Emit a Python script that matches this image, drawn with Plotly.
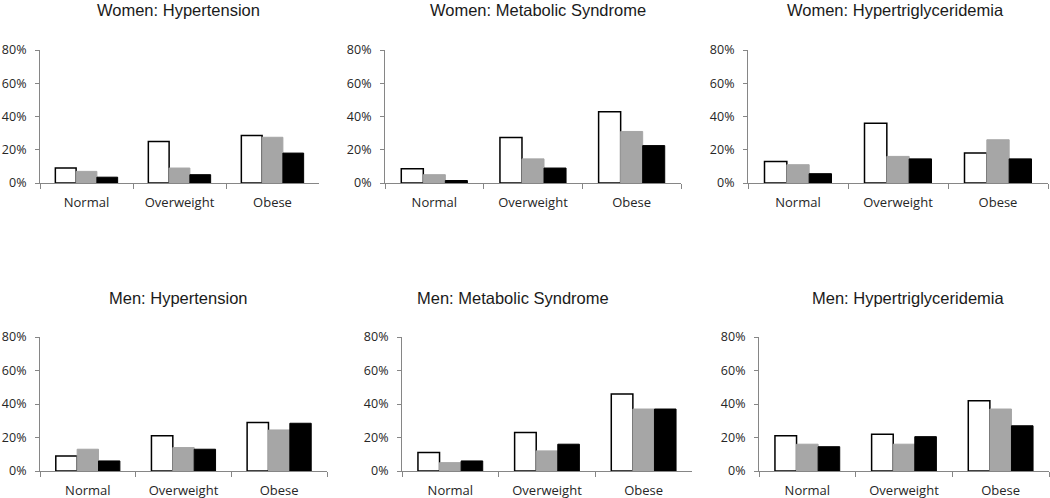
import plotly.graph_objects as go

categories = ["Normal", "Overweight", "Obese"]
panel_titles = [
    "Women: Hypertension", "Women: Metabolic Syndrome", "Women: Hypertriglyceridemia",
    "Men: Hypertension", "Men: Metabolic Syndrome", "Men: Hypertriglyceridemia",
]
y_ticks = [0, 20, 40, 60, 80]
y_tick_labels = ["0%", "20%", "40%", "60%", "80%"]

# values in percent, three series per panel (white, gray, black bars)
women_ht_white = [9, 25, 28.5]
women_ht_gray = [7, 9, 27.5]
women_ht_black = [3.5, 5, 18]

women_ms_white = [8.6, 27.3, 42.8]
women_ms_gray = [5, 14.5, 31]
women_ms_black = [1.5, 9, 22.5]

women_htg_white = [13, 36, 18]
women_htg_gray = [11, 16, 26]
women_htg_black = [5.6, 14.5, 14.5]

men_ht_white = [9, 21, 29]
men_ht_gray = [13, 14, 24.5]
men_ht_black = [6, 13, 28.5]

men_ms_white = [11, 23, 46]
men_ms_gray = [5, 12, 37]
men_ms_black = [6, 16, 37]

men_htg_white = [21, 22, 42]
men_htg_gray = [16, 16, 37]
men_htg_black = [14.5, 20.5, 27]

panels = [
    (women_ht_white, women_ht_gray, women_ht_black),
    (women_ms_white, women_ms_gray, women_ms_black),
    (women_htg_white, women_htg_gray, women_htg_black),
    (men_ht_white, men_ht_gray, men_ht_black),
    (men_ms_white, men_ms_gray, men_ms_black),
    (men_htg_white, men_htg_gray, men_htg_black),
]

W, H = 1050, 498
# pixel layout of each plot area: (x0, x1, ytop, ybottom)
boxes = [
    (40, 319, 50, 183), (385, 681, 50, 183), (748, 1048, 50, 183),
    (40, 327, 337, 471), (402, 692, 337, 471), (759, 1049, 337, 471),
]
title_pos = [(178, 10), (538, 10), (895, 10), (178, 298), (513, 298), (908, 298)]

fills = ["#FFFFFF", "#A6A6A6", "#000000"]
lines = ["#000000", "#A6A6A6", "#000000"]

fig = go.Figure()
axis_color = "#868686"
font_color = "#262626"

for i, (series, box) in enumerate(zip(panels, boxes)):
    n = i + 1
    xa = "x" if n == 1 else f"x{n}"
    ya = "y" if n == 1 else f"y{n}"
    for s, vals in enumerate(series):
        fig.add_trace(go.Bar(
            x=categories, y=vals, xaxis=xa, yaxis=ya,
            marker=dict(color=fills[s], line=dict(color=lines[s], width=1.5 if s == 0 else 1)),
            showlegend=False, offsetgroup=str(s),
        ))
    x0, x1, yt, yb = box
    xkey = "xaxis" if n == 1 else f"xaxis{n}"
    ykey = "yaxis" if n == 1 else f"yaxis{n}"
    fig.layout[xkey] = dict(
        domain=[x0 / W, x1 / W], anchor=ya, type="category", automargin=False,
        showline=True, linecolor=axis_color, linewidth=1,
        ticks="outside", tickson="boundaries", ticklen=5, tickcolor=axis_color,
        showgrid=False, zeroline=False,
        tickfont=dict(family="Open Sans", size=13, color=font_color),
        ticklabelstandoff=7,
        fixedrange=True,
    )
    fig.layout[ykey] = dict(
        domain=[1 - yb / H, 1 - yt / H], anchor=xa, automargin=False,
        range=[0, 80], tickmode="array", tickvals=y_ticks, ticktext=y_tick_labels,
        showline=True, linecolor=axis_color, linewidth=1,
        ticks="outside", ticklen=4, tickcolor=axis_color,
        showgrid=False, zeroline=False,
        tickfont=dict(family="Open Sans", size=12.5, color=font_color),
        ticklabelstandoff=6,
    )
    tx, ty = title_pos[i]
    fig.add_annotation(
        x=tx / W, y=1 - ty / H, xref="paper", yref="paper",
        text=panel_titles[i], showarrow=False, xanchor="center", yanchor="middle",
        font=dict(family="Liberation Sans, Arial", size=16.5, color="#1a1a1a"),
    )

fig.update_layout(
    template="none",
    width=W, height=H, barmode="group", bargap=0.33, bargroupgap=0,
    margin=dict(l=0, r=0, t=0, b=0, autoexpand=False),
    plot_bgcolor="white", paper_bgcolor="white",
)

fig.write_html(
    "out.html",
    config={"displayModeBar": False},
    post_script="document.body.style.margin='0';document.body.style.overflow='hidden';",
)
